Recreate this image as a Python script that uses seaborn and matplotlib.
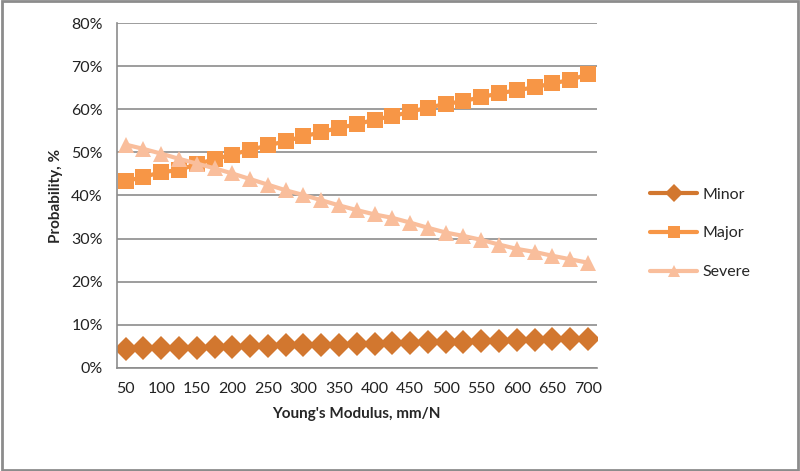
import matplotlib
matplotlib.use("Agg")
import matplotlib.pyplot as plt
import matplotlib.ticker as mticker
import seaborn as sns
import pandas as pd

# data (probability in %)
modulus = list(range(50, 701, 25))
minor = [4.4, 4.5, 4.6, 4.6, 4.7, 4.8, 4.9, 5.0, 5.1, 5.2, 5.3, 5.3, 5.4, 5.5,
         5.6, 5.7, 5.8, 5.9, 6.0, 6.1, 6.2, 6.3, 6.4, 6.5, 6.6, 6.7, 6.8]
major = [43.3, 44.3, 45.4, 45.9, 47.3, 48.4, 49.5, 50.6, 51.6, 52.6, 53.7, 54.7,
         55.7, 56.5, 57.6, 58.4, 59.4, 60.4, 61.2, 61.9, 62.8, 63.7, 64.4, 65.1,
         66.0, 66.8, 68.1]
severe = [51.8, 50.8, 49.7, 48.5, 47.4, 46.3, 45.1, 43.8, 42.5, 41.2, 40.1, 38.9,
          37.7, 36.6, 35.6, 34.8, 33.7, 32.5, 31.4, 30.6, 29.7, 28.6, 27.6, 26.9,
          26.0, 25.2, 24.4]
xticks = list(range(50, 701, 50))

df = pd.DataFrame({"Young's Modulus": modulus * 3,
                   "Probability": minor + major + severe,
                   "Severity": ["Minor"] * 27 + ["Major"] * 27 + ["Severe"] * 27})

sns.set_style("white")
plt.rcParams['font.family'] = ['Lato', 'DejaVu Sans']

palette = {"Minor": "#D2772F", "Major": "#F79646", "Severe": "#F9BE9C"}
markers = {"Minor": "D", "Major": "s", "Severe": "^"}

fig = plt.figure(figsize=(8, 4.71), dpi=100)
ax = fig.add_axes([0.146, 0.219, 0.6, 0.732])

sns.lineplot(data=df, x="Young's Modulus", y="Probability", hue="Severity",
             style="Severity", markers=markers, dashes=False, palette=palette,
             markersize=12, markeredgewidth=0, linewidth=3, ax=ax)

ax.set_xlim(37.5, 712.5)
ax.set_ylim(0, 80)
ax.set_xticks(xticks)
ax.set_yticks(range(0, 81, 10))
ax.yaxis.set_major_formatter(mticker.FuncFormatter(lambda v, p: f"{v:.0f}%"))
ax.tick_params(length=0, labelsize=11.5, colors="#222222", pad=10)
ax.grid(axis="y", color="#8C8C8C", linewidth=1.2)
ax.set_axisbelow(True)
for s in ["top", "right"]:
    ax.spines[s].set_visible(False)
for s in ["left", "bottom"]:
    ax.spines[s].set_color("#8C8C8C")
    ax.spines[s].set_linewidth(1.2)

ax.set_xlabel("Young's Modulus, mm/N", fontsize=11, fontweight="bold", labelpad=8)
ax.set_ylabel("Probability, %", fontsize=11, fontweight="bold", labelpad=6)

leg = ax.legend(loc="center left", bbox_to_anchor=(1.08, 0.39), frameon=False,
                fontsize=11.5, handlelength=3.0, handletextpad=0.3,
                labelspacing=1.55)
for h in leg.legend_handles:
    h.set_markersize(9)

# outer border like the original image
fig.patches.append(plt.Rectangle((0.002, 0.003), 0.995, 0.994, transform=fig.transFigure,
                                 fill=False, edgecolor="#8C8C8C", linewidth=2))

plt.savefig("out.png", dpi=100)
